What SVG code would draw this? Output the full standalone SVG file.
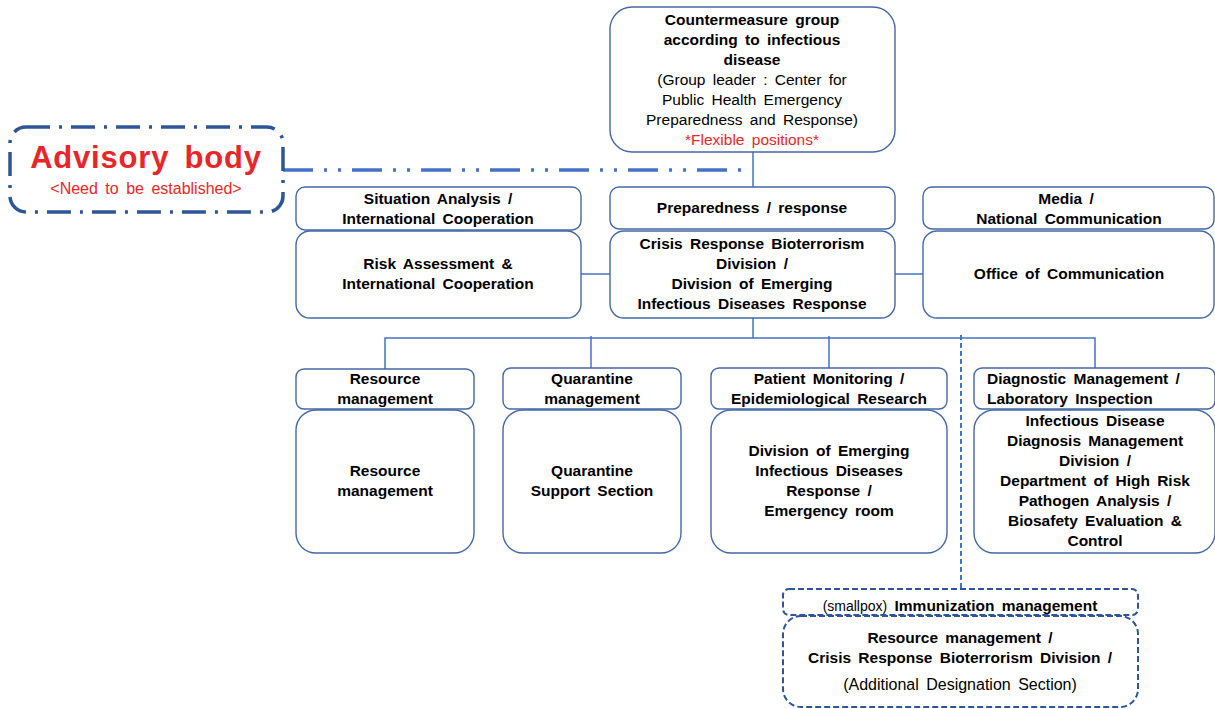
<svg xmlns="http://www.w3.org/2000/svg" width="1215" height="709" viewBox="0 0 1215 709">
<style>
.box{fill:#fff;stroke:#4468A4;stroke-width:1.4}
.dbox{fill:#fff;stroke:#2F5597;stroke-width:2;stroke-dasharray:6 3}
.conn{fill:none;stroke:#4472C4;stroke-width:1.5}
text{font-family:"Liberation Sans",Arial,sans-serif;font-size:15.5px;fill:#000;text-anchor:middle;word-spacing:3px}
.b{font-weight:bold}
.red{fill:#E8262A}
.l{text-anchor:start}
</style>
<rect width="1215" height="709" fill="#fff"/>
<g id="connectors">
<line class="conn" x1="753" y1="152" x2="753" y2="187"/>
<line class="conn" x1="581" y1="274" x2="610" y2="274"/>
<line class="conn" x1="895" y1="274" x2="923" y2="274"/>
<line class="conn" x1="753" y1="318" x2="753" y2="338"/>
<polyline class="conn" points="385,369 385,338 1095,338 1095,368"/>
<line class="conn" x1="591" y1="336" x2="591" y2="368"/>
<line class="conn" x1="829" y1="336" x2="829" y2="368"/>
<line x1="961" y1="335" x2="961" y2="589" stroke="#4472C4" stroke-width="2" stroke-dasharray="5 3"/>
<line x1="283" y1="170" x2="745" y2="170" stroke="#4472C4" stroke-width="3.5" stroke-dasharray="30 11 3 11 3 11"/>
</g>
<g id="advisory">
<rect x="10" y="127" width="273" height="85" rx="16" fill="#fff" stroke="#2F5597" stroke-width="3.5" stroke-dasharray="24 9 3 9"/>
<text x="146" y="168" class="b red" style="font-size:31px;letter-spacing:0.8px;word-spacing:6px">Advisory body</text>
<text x="146" y="194" class="red" style="font-size:16px">&lt;Need to be established&gt;</text>
</g>
<g id="top">
<rect class="box" x="610" y="7" width="285" height="145" rx="22"/>
<text x="752" y="25" class="b">Countermeasure group</text>
<text x="752" y="45" class="b">according to infectious</text>
<text x="752" y="65" class="b">disease</text>
<text x="752" y="85">(Group leader : Center for</text>
<text x="752" y="105">Public Health Emergency</text>
<text x="752" y="125">Preparedness and Response)</text>
<text x="752" y="145" class="red">*Flexible positions*</text>
</g>
<g id="situation">
<rect class="box" x="296" y="187" width="285" height="43" rx="9"/>
<text x="438" y="204" class="b">Situation Analysis /</text>
<text x="438" y="224" class="b">International Cooperation</text>
</g>
<g id="risk">
<rect class="box" x="296" y="231" width="285" height="87" rx="14"/>
<text x="438" y="269" class="b">Risk Assessment &amp;</text>
<text x="438" y="289" class="b">International Cooperation</text>
</g>
<g id="preparedness">
<rect class="box" x="610" y="187" width="285" height="42" rx="9"/>
<text x="752" y="213" class="b">Preparedness / response</text>
</g>
<g id="crisis">
<rect class="box" x="610" y="231" width="285" height="87" rx="14"/>
<text x="752" y="249" class="b">Crisis Response Bioterrorism</text>
<text x="752" y="269" class="b">Division /</text>
<text x="752" y="289" class="b">Division of Emerging</text>
<text x="752" y="309" class="b">Infectious Diseases Response</text>
</g>
<g id="media">
<rect class="box" x="923" y="187" width="291" height="42" rx="9"/>
<text x="1066" y="204" class="b">Media /</text>
<text x="1069" y="224" class="b">National Communication</text>
</g>
<g id="office">
<rect class="box" x="923" y="231" width="291" height="87" rx="14"/>
<text x="1069" y="279" class="b">Office of Communication</text>
</g>
<g id="resource-h">
<rect class="box" x="296" y="369" width="178" height="40" rx="8"/>
<text x="385" y="384" class="b">Resource</text>
<text x="385" y="404" class="b">management</text>
</g>
<g id="resource-b">
<rect class="box" x="296" y="410" width="178" height="143" rx="20"/>
<text x="385" y="476" class="b">Resource</text>
<text x="385" y="496" class="b">management</text>
</g>
<g id="quarantine-h">
<rect class="box" x="503" y="368" width="178" height="41" rx="8"/>
<text x="592" y="384" class="b">Quarantine</text>
<text x="592" y="404" class="b">management</text>
</g>
<g id="quarantine-b">
<rect class="box" x="503" y="410" width="178" height="143" rx="20"/>
<text x="592" y="476" class="b">Quarantine</text>
<text x="592" y="496" class="b">Support Section</text>
</g>
<g id="patient-h">
<rect class="box" x="711" y="368" width="236" height="41" rx="8"/>
<text x="829" y="384" class="b">Patient Monitoring /</text>
<text x="829" y="404" class="b">Epidemiological Research</text>
</g>
<g id="patient-b">
<rect class="box" x="711" y="410" width="236" height="143" rx="20"/>
<text x="829" y="456" class="b">Division of Emerging</text>
<text x="829" y="476" class="b">Infectious Diseases</text>
<text x="829" y="496" class="b">Response /</text>
<text x="829" y="516" class="b">Emergency room</text>
</g>
<g id="diagnostic-h">
<rect class="box" x="974" y="368" width="241" height="41" rx="8"/>
<text x="987" y="384" class="b l">Diagnostic Management /</text>
<text x="987" y="404" class="b l">Laboratory Inspection</text>
</g>
<g id="diagnostic-b">
<rect class="box" x="974" y="410" width="241" height="143" rx="20"/>
<text x="1095" y="426" class="b">Infectious Disease</text>
<text x="1095" y="446" class="b">Diagnosis Management</text>
<text x="1095" y="466" class="b">Division /</text>
<text x="1095" y="486" class="b">Department of High Risk</text>
<text x="1095" y="506" class="b">Pathogen Analysis /</text>
<text x="1095" y="526" class="b">Biosafety Evaluation &amp;</text>
<text x="1095" y="546" class="b">Control</text>
</g>
<g id="immunization-h">
<rect class="dbox" x="783" y="589" width="355" height="26" rx="6"/>
<text x="960" y="611"><tspan style="font-size:14px">(smallpox)</tspan> <tspan class="b">Immunization management</tspan></text>
</g>
<g id="immunization-b">
<rect class="dbox" x="783" y="616" width="355" height="91" rx="18"/>
<text x="960" y="643" class="b">Resource management /</text>
<text x="960" y="663" class="b">Crisis Response Bioterrorism Division /</text>
<text x="960" y="690" style="font-size:16px">(Additional Designation Section)</text>
</g>
</svg>
